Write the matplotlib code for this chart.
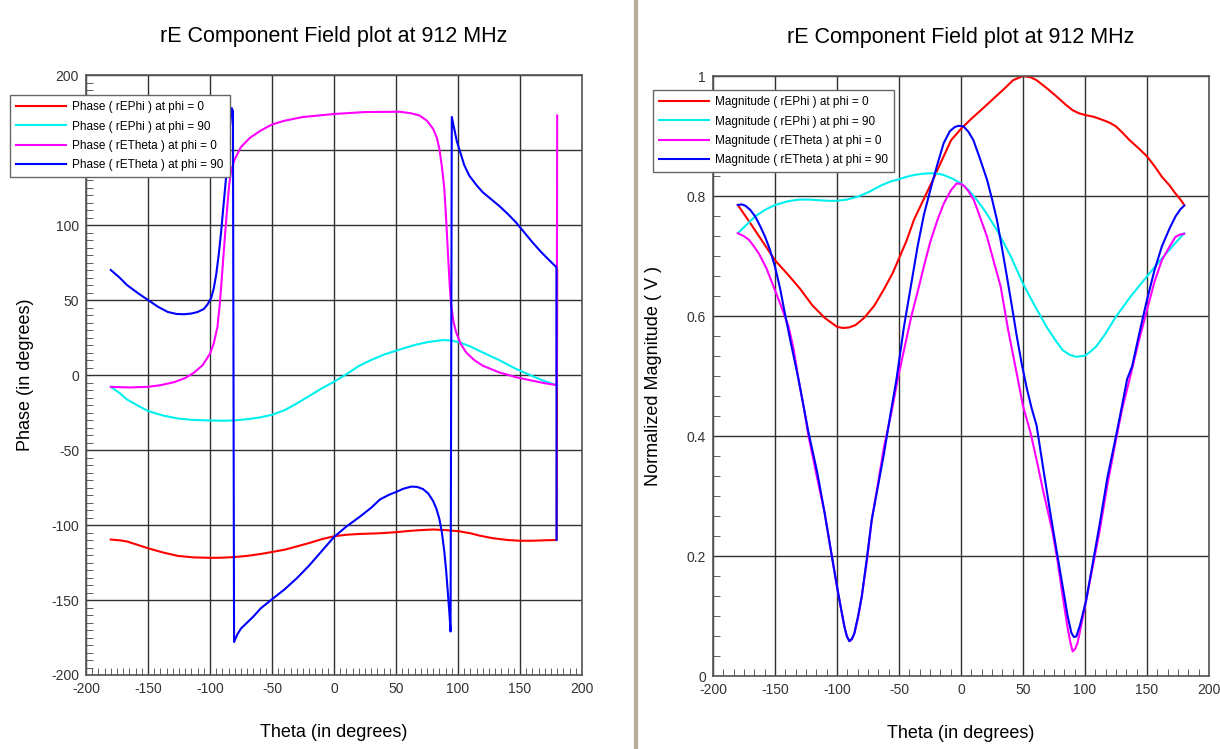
import matplotlib
matplotlib.use("Agg")
import matplotlib.pyplot as plt
from matplotlib.ticker import MultipleLocator, FormatStrFormatter, FuncFormatter
from matplotlib.lines import Line2D

plt.rcParams['font.family'] = ['Liberation Sans', 'DejaVu Sans']
plt.rcParams['axes.unicode_minus'] = False

title = "rE Component Field plot at 912 MHz"

# ---- phase data (left plot) ----
ph_red_t = [-180, -172, -167, -160, -150, -138, -126, -113, -100, -90, -81, -70, -59, -50, -40, -30, -20, -10, 0,
            10, 20, 37, 50, 60, 70, 80, 90, 101, 110, 117, 128, 140, 150, 160, 170, 179.6, 180]
ph_red_v = [-109.7, -110.3, -111, -112.8, -115.5, -118.3, -120.6, -121.6, -121.9, -121.8, -121.4, -120.6, -119.3,
            -118, -116.5, -114.3, -112, -109.5, -107.5, -106.5, -106, -105.5, -104.8, -104, -103.4, -103, -103.4,
            -104.2, -105.5, -107, -108.8, -110, -110.5, -110.5, -110.2, -110, 70]

ph_cyan_t = [-180, -173, -167, -158, -150, -138, -126, -113, -100, -90, -81, -70, -59, -50, -40, -30, -20, -10, 0,
             10, 20, 30, 40, 53, 65, 76, 88, 95, 102, 110, 120, 133, 147, 158, 168, 180]
ph_cyan_v = [-7.9, -12, -16.3, -20.5, -24, -27, -29, -30, -30.3, -30.5, -30.3, -29.5, -28.2, -26.5, -23.5, -19, -14,
             -9, -4.5, 0.5, 6, 10, 13.5, 17, 20, 22, 23.3, 23, 21.5, 19, 15, 10, 4, 0, -3.5, -7]

ph_mag_t = [-180, -165, -150, -140, -129, -120, -113, -106, -100, -97, -94, -92, -90, -88, -86, -84.5, -83, -80, -75,
            -68, -59, -50, -40, -25, 0, 25, 53, 62, 69, 75, 80, 83, 85, 87, 89, 90.5, 92, 93.3, 94.5, 96.5, 98.5,
            102, 106.6, 113, 120, 133, 147, 160, 170, 179.6, 180]
ph_mag_v = [-7.9, -8.3, -7.9, -6.8, -4.8, -2, 1.5, 6.5, 14.2, 21, 32, 48, 70, 92, 113, 127, 136, 144, 152,
            158, 163, 167, 169.5, 172, 174, 175.3, 175.5, 174.5, 173, 169.5, 164, 158, 150.7, 139, 124, 103, 79.5,
            60, 46, 35, 28.5, 21, 15, 10, 6.2, 1.8, -1.5, -3.8, -5.5, -6.7, 173]

ph_blue_t = [-180, -173, -167, -158, -150, -142, -134, -127, -121, -115, -110, -105, -102, -99, -97, -95, -93, -91,
             -89, -87, -85.5, -84, -82.5, -81.5, -80.6, -78, -75, -70, -65, -59, -50, -40, -30, -20, -10, 0, 10,
             20, 30, 37, 44, 50, 56, 62.4, 67, 71.7, 76, 79.8, 82.5, 85, 87, 89, 90.5, 91.8, 93, 94, 95, 97, 99,
             101, 105, 109, 115, 120, 127, 133, 140, 146.7, 153, 160, 167, 173, 179.4, 179.5]
ph_blue_v = [70, 65, 60, 54.5, 50, 45.5, 42, 40.7, 40.5, 41, 42, 44, 47, 51.5, 57.5, 67, 80, 95.7,
             114, 132, 150, 165, 178, 176, -178, -173, -169, -165, -161, -155.5, -149.5, -143, -135.5, -127,
             -117.5, -108, -101, -95, -88.5, -83, -80, -78, -75.8, -74.4, -74.6, -76, -79, -83.8, -89, -96,
             -105, -118, -131, -145, -158, -171, 172, 164, 156, 150.7, 140, 133, 126.5, 121.8, 117, 112.9,
             107.5, 101.8, 95.5, 88.5, 82, 77, 71.8, -110]

# ---- magnitude data (right plot) ----
mg_red_t = [-180, -170, -160, -150, -140, -130, -120, -110, -100, -95, -90, -85, -78, -70, -62, -55, -50, -44, -38,
            -30, -24, -16, -8, 0, 8, 16, 25, 34, 42, 50, 56, 61, 69, 77, 84, 90, 95, 100, 107, 114, 120, 125,
            130, 136, 143, 150, 156, 162, 168, 173, 177, 180]
mg_red_v = [0.785, 0.755, 0.724, 0.693, 0.67, 0.646, 0.618, 0.597, 0.582, 0.58, 0.581, 0.585, 0.597, 0.617,
            0.645, 0.672, 0.696, 0.725, 0.76, 0.795, 0.821, 0.857, 0.893, 0.912, 0.928, 0.943, 0.96, 0.977,
            0.993, 1.0, 0.998, 0.993, 0.98, 0.966, 0.953, 0.943, 0.938, 0.935, 0.932, 0.927, 0.922, 0.916,
            0.906, 0.893, 0.88, 0.866, 0.85, 0.832, 0.818, 0.804, 0.794, 0.785]

mg_cyan_t = [-180, -172, -166, -158, -150, -140, -131, -122, -115, -107, -100, -92, -83, -74, -64, -57, -50, -44,
             -38, -31, -24, -18, -14, -7, 0, 6, 13, 20, 29, 40, 50, 60, 69, 76, 82, 88, 93, 100, 104, 109, 116,
             125, 137, 150, 156, 162, 170, 180]
mg_cyan_v = [0.738, 0.754, 0.766, 0.777, 0.785, 0.791, 0.794, 0.794, 0.793, 0.792, 0.792, 0.794, 0.799, 0.807,
             0.818, 0.824, 0.828, 0.832, 0.835, 0.837, 0.838, 0.837, 0.835, 0.829, 0.821, 0.81, 0.793, 0.773,
             0.743, 0.7, 0.654, 0.615, 0.582, 0.56, 0.543, 0.535, 0.532, 0.534, 0.54, 0.549, 0.569, 0.599,
             0.633, 0.666, 0.681, 0.696, 0.715, 0.738]

mg_mag_t = [-180, -175, -171, -167, -163, -157, -150, -145, -139, -135, -131, -127, -123, -116, -110, -105, -100,
            -97, -94, -92, -90, -88, -86, -83, -80, -76, -72, -67, -62, -56, -51, -46, -40, -35, -30, -25, -19,
            -14, -8, -3.5, 0, 2.4, 6, 10.4, 15, 21, 26, 32, 38, 46, 50, 56, 61, 66, 70, 74, 78, 82, 86, 88, 90,
            92, 94, 97, 101, 106, 112, 118, 125, 130, 136, 143, 150, 156, 162, 168, 173, 177, 180]
mg_mag_v = [0.738, 0.733, 0.727, 0.716, 0.704, 0.68, 0.643, 0.616, 0.582, 0.545, 0.494, 0.45, 0.40, 0.33,
            0.272, 0.21, 0.149, 0.115, 0.082, 0.066, 0.058, 0.061, 0.071, 0.097, 0.133, 0.19, 0.26, 0.32,
            0.383, 0.44, 0.495, 0.543, 0.6, 0.64, 0.682, 0.722, 0.76, 0.787, 0.81, 0.821, 0.82, 0.817, 0.808,
            0.793, 0.767, 0.732, 0.694, 0.649, 0.577, 0.493, 0.45, 0.406, 0.36, 0.311, 0.275, 0.238, 0.19,
            0.133, 0.08, 0.058, 0.041, 0.045, 0.055, 0.085, 0.127, 0.18, 0.244, 0.318, 0.394, 0.445, 0.495,
            0.555, 0.61, 0.657, 0.693, 0.715, 0.732, 0.736, 0.737]

mg_blue_t = [-180, -177, -174, -170, -166, -162, -158, -154, -150, -146, -142, -137, -131, -127, -123, -116, -110,
             -105, -100, -97, -94, -92, -90, -88, -86, -83, -80, -76, -72, -67, -62, -57, -52, -46, -40, -35, -30,
             -24, -19, -14, -9, -5, -2, 2, 6, 10, 15, 21, 25, 29, 33, 37, 41, 45, 49, 53, 57, 61, 66, 72, 77,
             82, 86, 89, 91, 93, 96, 101, 106, 112, 118, 125, 130, 134, 138, 144, 150, 156, 162, 168, 173, 177, 180]
mg_blue_v = [0.785, 0.786, 0.784, 0.777, 0.766, 0.75, 0.732, 0.71, 0.682, 0.647, 0.604, 0.553, 0.494, 0.45,
             0.406, 0.34, 0.272, 0.21, 0.149, 0.115, 0.082, 0.066, 0.058, 0.062, 0.071, 0.1, 0.133, 0.195,
             0.26, 0.316, 0.372, 0.435, 0.495, 0.582, 0.655, 0.716, 0.768, 0.816, 0.853, 0.888, 0.908, 0.915,
             0.917, 0.916, 0.907, 0.893, 0.864, 0.827, 0.795, 0.76, 0.714, 0.666, 0.617, 0.566, 0.52, 0.48,
             0.446, 0.417, 0.35, 0.272, 0.21, 0.149, 0.1, 0.072, 0.065, 0.066, 0.085, 0.127, 0.185, 0.255,
             0.33, 0.40, 0.452, 0.495, 0.516, 0.573, 0.627, 0.676, 0.716, 0.745, 0.766, 0.778, 0.784]

ph_labels = ["Phase ( rEPhi ) at phi = 0", "Phase ( rEPhi ) at phi = 90",
             "Phase ( rETheta ) at phi = 0", "Phase ( rETheta ) at phi = 90"]
mg_labels = ["Magnitude ( rEPhi ) at phi = 0", "Magnitude ( rEPhi ) at phi = 90",
             "Magnitude ( rETheta ) at phi = 0", "Magnitude ( rETheta ) at phi = 90"]
colors = ['#ff0000', '#00f0f0', '#ff00ff', '#0000ff']

fig = plt.figure(figsize=(12.2, 7.49), dpi=100)
ax1 = fig.add_axes([86/1220, 1-675/749, 496/1220, 600/749])
ax2 = fig.add_axes([713/1220, 1-676/749, 496/1220, 600/749])


def style(ax):
    ax.grid(True, which='major', color='#303030', linewidth=1)
    ax.set_axisbelow(True)
    ax.tick_params(which='major', length=0, labelsize=10, pad=5, colors='#333333')
    ax.tick_params(which='minor', direction='in', length=5, color='#444444',
                   top=False, right=False)
    for s in ax.spines.values():
        s.set_color('#555555')
        s.set_linewidth(1.2)


def legend(ax, x, y):
    ax.legend(loc='upper left', bbox_to_anchor=(x/1220, 1-y/749), bbox_transform=fig.transFigure,
              fontsize=8.5, fancybox=False, framealpha=1, edgecolor='#666666',
              handlelength=4.2, handletextpad=0.5, borderaxespad=0, borderpad=0.55,
              labelspacing=0.6)


ax1.plot(ph_red_t, ph_red_v, color=colors[0], lw=1.5, label=ph_labels[0])
ax1.plot(ph_cyan_t, ph_cyan_v, color=colors[1], lw=1.5, label=ph_labels[1])
ax1.plot(ph_mag_t, ph_mag_v, color=colors[2], lw=1.5, label=ph_labels[2])
ax1.plot(ph_blue_t, ph_blue_v, color=colors[3], lw=1.5, label=ph_labels[3])
ax1.set_xlim(-200, 200)
ax1.set_ylim(-200, 200)
ax1.xaxis.set_major_locator(MultipleLocator(50))
ax1.yaxis.set_major_locator(MultipleLocator(50))
ax1.xaxis.set_minor_locator(MultipleLocator(5))
ax1.yaxis.set_minor_locator(MultipleLocator(5))
# the 150 label sits under the legend in the original
ax1.yaxis.set_major_formatter(FuncFormatter(lambda v, p: '' if v == 150 else '%g' % v))
style(ax1)
ax1.set_title(title, fontsize=15.5, pad=24)
ax1.set_xlabel("Theta (in degrees)", fontsize=13, labelpad=20)
ax1.set_ylabel("Phase (in degrees)", fontsize=13, labelpad=12)
legend(ax1, 10, 95)

ax2.plot(mg_red_t, mg_red_v, color=colors[0], lw=1.5, label=mg_labels[0])
ax2.plot(mg_cyan_t, mg_cyan_v, color=colors[1], lw=1.5, label=mg_labels[1])
ax2.plot(mg_mag_t, mg_mag_v, color=colors[2], lw=1.5, label=mg_labels[2])
ax2.plot(mg_blue_t, mg_blue_v, color=colors[3], lw=1.5, label=mg_labels[3])
ax2.set_xlim(-200, 200)
ax2.set_ylim(0, 1)
ax2.xaxis.set_major_locator(MultipleLocator(50))
ax2.yaxis.set_major_locator(MultipleLocator(0.2))
ax2.xaxis.set_minor_locator(MultipleLocator(50/6))
ax2.yaxis.set_minor_locator(MultipleLocator(0.2/6))
ax2.yaxis.set_major_formatter(FormatStrFormatter('%g'))
style(ax2)
ax2.set_title(title, fontsize=15.5, pad=24)
ax2.set_xlabel("Theta (in degrees)", fontsize=13, labelpad=20)
ax2.set_ylabel("Normalized Magnitude ( V )", fontsize=13, labelpad=18)
legend(ax2, 653, 90)

# separator between the two panels
fig.add_artist(Line2D([636/1220, 636/1220], [0, 1], transform=fig.transFigure,
                      color='#b8ad98', linewidth=3))

fig.savefig("out.png", dpi=100)
